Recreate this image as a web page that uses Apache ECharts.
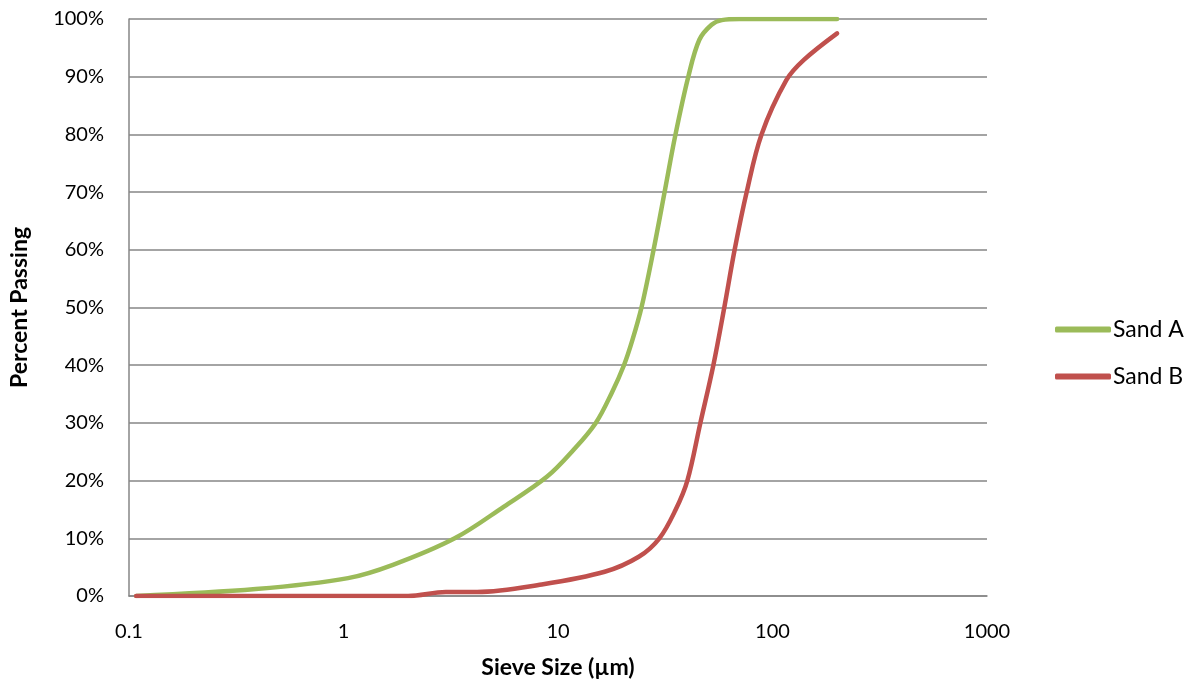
<!DOCTYPE html>
<html>
<head>
<meta charset="utf-8">
<script src="https://cdn.jsdelivr.net/npm/echarts@6/dist/echarts.min.js"></script>
<style>
  html, body { margin: 0; padding: 0; background: #fff; }
  #chart { width: 1204px; height: 688px; }
</style>
</head>
<body>
<div id="chart"></div>
<script>
// sieve sizes (µm) and percent passing
const sandASize = [0.108, 0.39, 1.05, 1.7, 3.3, 5.6, 8.9, 11.8, 15.0, 17.8, 20.3, 22.2, 24.5, 27.9, 31.4, 35.3, 40.5, 45.6, 52, 58, 70, 200];
const sandAPct  = [0, 1.2, 3.1, 5.4, 10, 15.5, 20.7, 25.3, 30, 35.2, 40, 44.3, 50, 60, 70, 80, 90, 96.4, 99, 99.8, 100, 100];

const sandBSize = [0.108, 1.0, 2.0, 3.0, 4.2, 8.4, 16.5, 23.8, 29.7, 35.3, 40.1, 46.1, 53, 59.6, 66.6, 75.8, 88.9, 116, 140, 200];
const sandBPct  = [0, 0, 0, 0.7, 0.7, 2, 4.2, 6.8, 10, 14.9, 20, 30, 40, 50, 60, 70, 80, 89.4, 92.9, 97.5];

const seriesNames = ['Sand A', 'Sand B'];
const seriesColors = ['#9BBB59', '#C0504D'];

const pairs = (xs, ys) => xs.map((x, i) => [x, ys[i]]);

const chart = echarts.init(document.getElementById('chart'));
const font = 'Lato, "Open Sans", sans-serif';

const option = {
    animation: false,
    textStyle: { fontFamily: font },
    grid: { left: 125, right: 217, top: 19, bottom: 92, containLabel: false },
    legend: {
        orient: 'vertical',
        left: 1055,
        top: 318,
        padding: 0,
        itemWidth: 56,
        itemHeight: 6,
        itemGap: 24,
        icon: 'roundRect',
        textStyle: { fontSize: 23, color: '#000', fontFamily: font, padding: [0, 0, 0, -3] },
        data: seriesNames
    },
    xAxis: {
        type: 'log',
        logBase: 10,
        min: 0.1,
        max: 1000,
        name: 'Sieve Size (µm)',
        nameLocation: 'middle',
        nameGap: 60,
        nameTextStyle: { fontSize: 23, fontWeight: 'bold', color: '#000', fontFamily: font },
        axisLine: { show: true, lineStyle: { color: '#868686', width: 1.5 } },
        axisTick: { show: false },
        splitLine: { show: false },
        minorSplitLine: { show: false },
        axisLabel: {
            fontSize: 20, color: '#000', margin: 26,
            formatter: v => String(v)
        }
    },
    yAxis: {
        type: 'value',
        min: 0,
        max: 100,
        interval: 10,
        name: 'Percent Passing',
        nameLocation: 'middle',
        nameGap: 98,
        nameTextStyle: { fontSize: 23, fontWeight: 'bold', color: '#000', fontFamily: font },
        axisLine: { show: true, lineStyle: { color: '#868686', width: 1.5 } },
        axisTick: { show: false },
        splitLine: { show: true, lineStyle: { color: '#868686', width: 1.5 } },
        axisLabel: {
            fontSize: 20, color: '#000', margin: 25,
            formatter: v => v + '%'
        }
    },
    series: [
        {
            name: seriesNames[0],
            type: 'line',
            data: pairs(sandASize, sandAPct),
            smooth: 0.35,
            showSymbol: false,
            symbol: 'none',
            color: seriesColors[0],
            lineStyle: { width: 4.5, color: seriesColors[0], cap: 'round' }
        },
        {
            name: seriesNames[1],
            type: 'line',
            data: pairs(sandBSize, sandBPct),
            smooth: 0.35,
            showSymbol: false,
            symbol: 'none',
            color: seriesColors[1],
            lineStyle: { width: 4.5, color: seriesColors[1], cap: 'round' }
        }
    ]
};

chart.setOption(option);
</script>
</body>
</html>
